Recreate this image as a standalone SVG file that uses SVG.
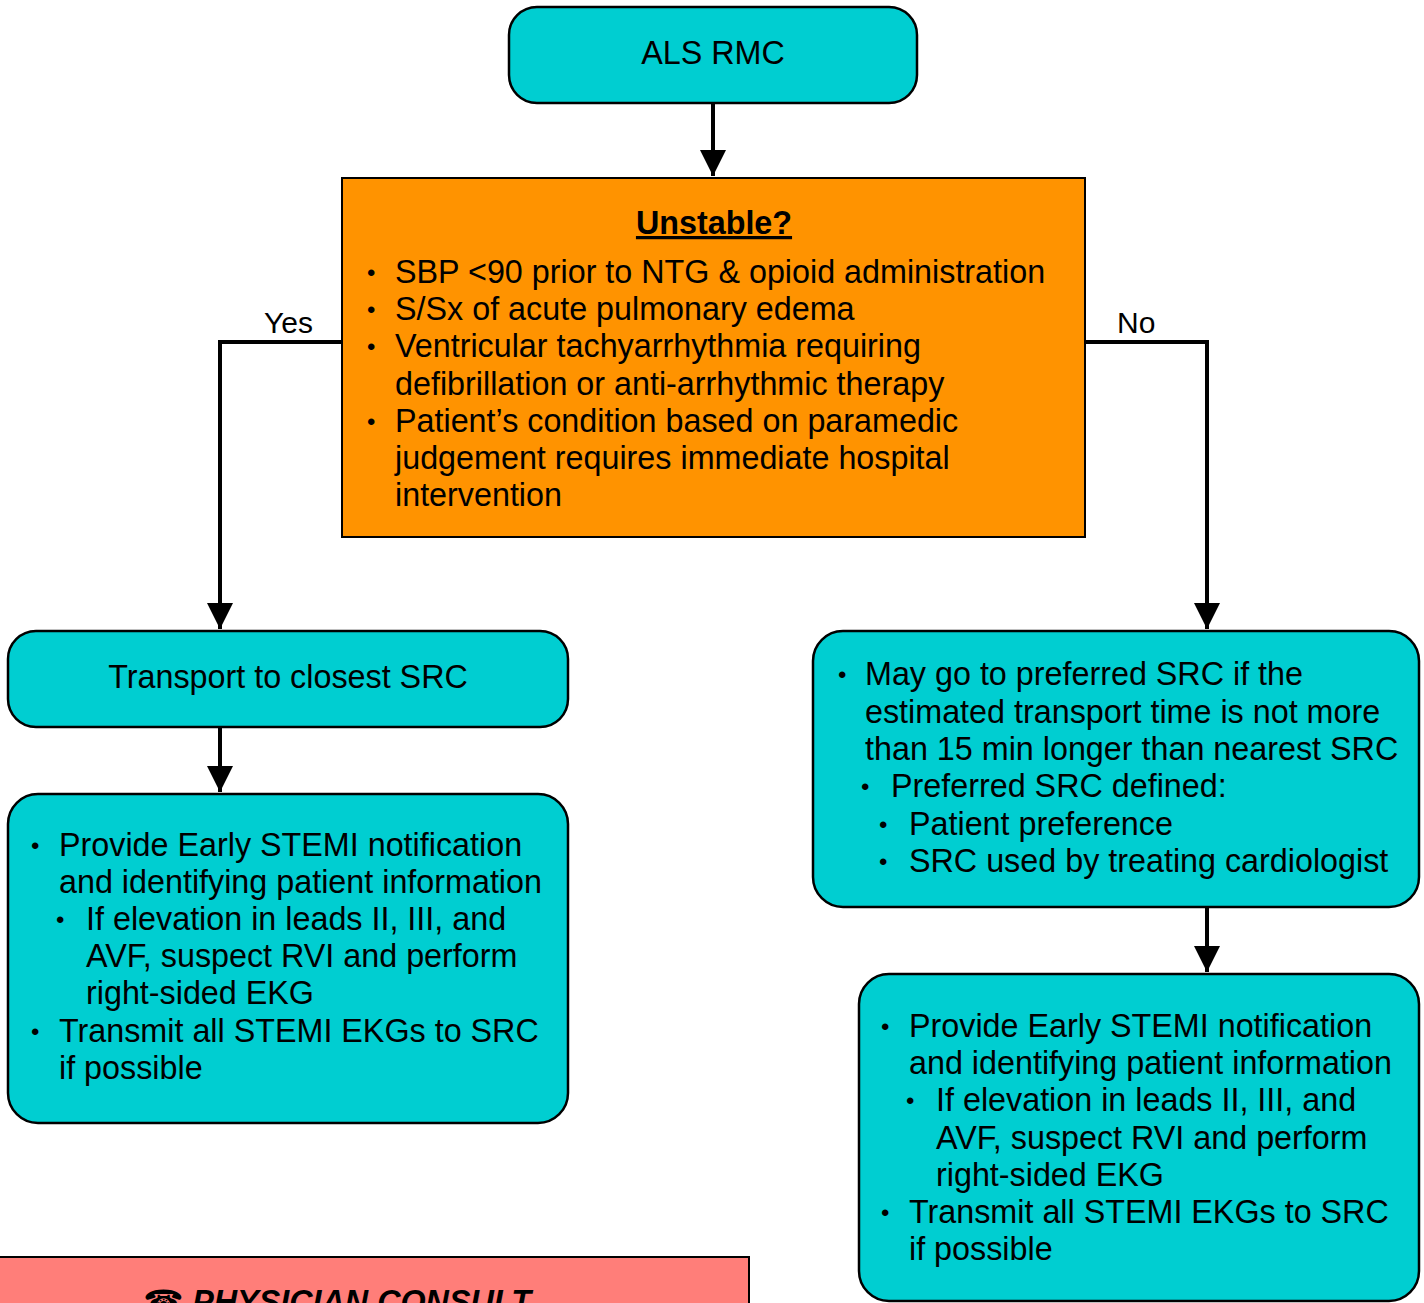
<svg xmlns="http://www.w3.org/2000/svg" width="1424" height="1303" viewBox="0 0 1424 1303">
<style>
  .cyan { fill: #00CED1; stroke: #000; stroke-width: 2.5; }
  .orange { fill: #FF9300; stroke: #000; stroke-width: 2; }
  .red { fill: #FF7E79; stroke: #000; stroke-width: 2; }
  text { font-family: "Liberation Sans", Arial, "DejaVu Sans", sans-serif; font-size: 32.3px; fill: #000; }
  .c { text-anchor: middle; }
  .lbl { font-size: 30px; }
  .b { font-weight: bold; }
  .bul { font-size: 24px; }
  .conn { fill: none; stroke: #000; stroke-width: 4; }
</style>
<defs>
  <marker id="arr" markerUnits="userSpaceOnUse" markerWidth="26" markerHeight="26" viewBox="0 0 26 26" refX="26" refY="13" orient="auto">
    <path d="M0,0 L26,13 L0,26 Z" fill="#000"/>
  </marker>
</defs>

<g id="connectors">
  <path class="conn" d="M713,103 V176" marker-end="url(#arr)"/>
  <path class="conn" d="M342,342 H220 V629" marker-end="url(#arr)"/>
  <path class="conn" d="M1085,342 H1207 V629" marker-end="url(#arr)"/>
  <path class="conn" d="M220,727 V792" marker-end="url(#arr)"/>
  <path class="conn" d="M1207,907 V972" marker-end="url(#arr)"/>
  <text class="lbl" x="264" y="333">Yes</text>
  <text class="lbl" x="1117" y="333">No</text>
</g>

<g id="als-rmc">
  <rect class="cyan" x="509" y="7" width="408" height="96" rx="28" ry="28"/>
  <text class="c" x="713" y="64">ALS RMC</text>
</g>

<g id="unstable">
  <rect class="orange" x="342" y="178" width="743" height="359"/>
  <text class="c b" x="714" y="234" text-decoration="underline">Unstable?</text>
  <text class="bul" x="367" y="281">•</text><text x="395" y="283">SBP &lt;90 prior to NTG &amp; opioid administration</text>
  <text class="bul" x="367" y="318">•</text><text x="395" y="320">S/Sx of acute pulmonary edema</text>
  <text class="bul" x="367" y="355">•</text><text x="395" y="357">Ventricular tachyarrhythmia requiring</text>
  <text x="395" y="395">defibrillation or anti-arrhythmic therapy</text>
  <text class="bul" x="367" y="430">•</text><text x="395" y="432">Patient’s condition based on paramedic</text>
  <text x="395" y="469">judgement requires immediate hospital</text>
  <text x="395" y="506">intervention</text>
</g>

<g id="transport-closest">
  <rect class="cyan" x="8" y="631" width="560" height="96" rx="28" ry="28"/>
  <text class="c" x="288" y="688">Transport to closest SRC</text>
</g>

<g id="left-notify">
  <rect class="cyan" x="8" y="794" width="560" height="329" rx="30" ry="30"/>
  <text class="bul" x="31" y="854">•</text><text x="59" y="856">Provide Early STEMI notification</text>
  <text x="59" y="893">and identifying patient information</text>
  <text class="bul" x="56" y="928">•</text><text x="86" y="930">If elevation in leads II, III, and</text>
  <text x="86" y="967">AVF, suspect RVI and perform</text>
  <text x="86" y="1004">right-sided EKG</text>
  <text class="bul" x="31" y="1040">•</text><text x="59" y="1042">Transmit all STEMI EKGs to SRC</text>
  <text x="59" y="1079">if possible</text>
</g>

<g id="preferred-src">
  <rect class="cyan" x="813" y="631" width="606" height="276" rx="30" ry="30"/>
  <text class="bul" x="838" y="683">•</text><text x="865" y="685">May go to preferred SRC if the</text>
  <text x="865" y="723">estimated transport time is not more</text>
  <text x="865" y="760">than 15 min longer than nearest SRC</text>
  <text class="bul" x="861" y="795">•</text><text x="891" y="797">Preferred SRC defined:</text>
  <text class="bul" x="879" y="833">•</text><text x="909" y="835">Patient preference</text>
  <text class="bul" x="879" y="870">•</text><text x="909" y="872">SRC used by treating cardiologist</text>
</g>

<g id="right-notify">
  <rect class="cyan" x="859" y="974" width="560" height="327" rx="30" ry="30"/>
  <text class="bul" x="881" y="1035">•</text><text x="909" y="1037">Provide Early STEMI notification</text>
  <text x="909" y="1074">and identifying patient information</text>
  <text class="bul" x="906" y="1109">•</text><text x="936" y="1111">If elevation in leads II, III, and</text>
  <text x="936" y="1149">AVF, suspect RVI and perform</text>
  <text x="936" y="1186">right-sided EKG</text>
  <text class="bul" x="881" y="1221">•</text><text x="909" y="1223">Transmit all STEMI EKGs to SRC</text>
  <text x="909" y="1260">if possible</text>
</g>

<g id="physician-consult">
  <rect class="red" x="-2" y="1257" width="751" height="80"/>
  <text class="c b" x="337" y="1313" font-style="italic">☎ PHYSICIAN CONSULT</text>
</g>
</svg>
